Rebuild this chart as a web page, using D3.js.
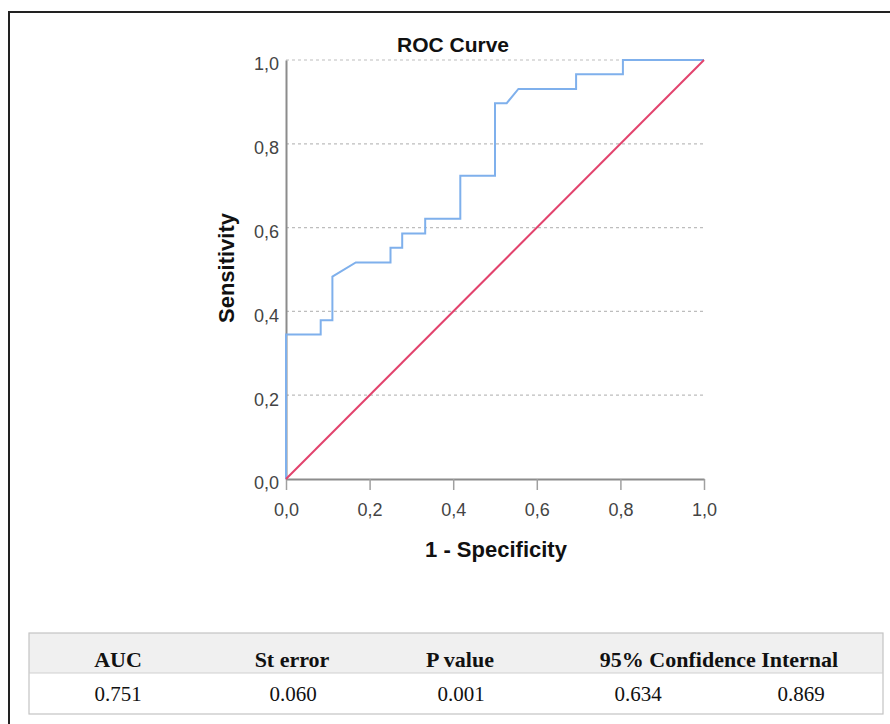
<!DOCTYPE html>
<html>
<head>
<meta charset="utf-8">
<script src="https://cdn.jsdelivr.net/npm/d3@7"></script>
<style>
html,body{margin:0;padding:0;background:#fff;}
svg{display:block;}
</style>
</head>
<body>
<svg id="chart" width="890" height="724"></svg>
<script>
// ---- data ----
const fpr = [0, 0, 0.083, 0.083, 0.111, 0.111, 0.167, 0.25, 0.25, 0.278, 0.278, 0.333, 0.333, 0.417, 0.417, 0.5, 0.5, 0.528, 0.556, 0.694, 0.694, 0.806, 0.806, 1];
const tpr = [0, 0.345, 0.345, 0.379, 0.379, 0.483, 0.517, 0.517, 0.552, 0.552, 0.586, 0.586, 0.621, 0.621, 0.724, 0.724, 0.897, 0.897, 0.931, 0.931, 0.966, 0.966, 1, 1];
const refX = [0, 1];
const refY = [0, 1];
const tickValues = [0, 0.2, 0.4, 0.6, 0.8, 1.0];
const tickLabels = ["0,0", "0,2", "0,4", "0,6", "0,8", "1,0"];
const tableHeaders = ["AUC", "St error", "P value", "95% Confidence Internal"];
const tableValues = ["0.751", "0.060", "0.001", "0.634", "0.869"];

// ---- layout ----
const svg = d3.select("#chart");
const x = d3.scaleLinear().domain([0, 1]).range([286, 704]);
const y = d3.scaleLinear().domain([0, 1]).range([479, 60]);

// outer frame
svg.append("rect").attr("x", 9).attr("y", 12).attr("width", 900).attr("height", 730)
  .attr("fill", "none").attr("stroke", "#222").attr("stroke-width", 2);

// gridlines
svg.append("g").selectAll("line").data(tickValues.filter(v => v > 0)).join("line")
  .attr("x1", x(0)).attr("x2", x(1))
  .attr("y1", d => y(d)).attr("y2", d => y(d))
  .attr("stroke", "#bdbdbd").attr("stroke-width", 1.2).attr("stroke-dasharray", "3,3");

// x axis
const xAxis = d3.axisBottom(x).tickValues(tickValues)
  .tickFormat((d, i) => tickLabels[i]).tickSize(11).tickSizeOuter(0).tickPadding(13);
const gx = svg.append("g").attr("transform", `translate(0,${y(0)})`).call(xAxis);
gx.select(".domain").attr("stroke", "#8c8c8c").attr("stroke-width", 2);
gx.selectAll(".tick line").attr("stroke", "#a0a0a0").attr("stroke-width", 1.5);
gx.selectAll(".tick text").attr("font-family", "Liberation Sans, Arial, sans-serif")
  .attr("font-size", 18).attr("fill", "#444");

// y axis
const yAxis = d3.axisLeft(y).tickValues(tickValues)
  .tickFormat((d, i) => tickLabels[i]).tickSize(0).tickSizeOuter(0).tickPadding(7);
const gy = svg.append("g").attr("transform", `translate(${x(0)},0)`).call(yAxis);
gy.select(".domain").attr("stroke", "#8c8c8c").attr("stroke-width", 2);
gy.selectAll(".tick text").attr("font-family", "Liberation Sans, Arial, sans-serif")
  .attr("font-size", 18).attr("fill", "#444").attr("dy", "0.55em");

// ROC curve
const pts = fpr.map((v, i) => [v, tpr[i]]);
const line = d3.line().x(d => x(d[0])).y(d => y(d[1]));
svg.append("path").datum(pts).attr("d", line)
  .attr("fill", "none").attr("stroke", "#7fb0ec").attr("stroke-width", 2);

// reference line
svg.append("path").datum(refX.map((v, i) => [v, refY[i]])).attr("d", line)
  .attr("fill", "none").attr("stroke", "#e2436d").attr("stroke-width", 2);

// titles
svg.append("text").attr("x", 453).attr("y", 52).attr("text-anchor", "middle")
  .attr("font-family", "Liberation Sans, Arial, sans-serif").attr("font-weight", "bold")
  .attr("font-size", 21).attr("fill", "#111").text("ROC Curve");
svg.append("text").attr("x", 496).attr("y", 557).attr("text-anchor", "middle")
  .attr("font-family", "Liberation Sans, Arial, sans-serif").attr("font-weight", "bold")
  .attr("font-size", 22).attr("fill", "#111").text("1 - Specificity");
svg.append("text").attr("transform", "translate(234,268) rotate(-90)").attr("text-anchor", "middle")
  .attr("font-family", "Liberation Sans, Arial, sans-serif").attr("font-weight", "bold")
  .attr("font-size", 22).attr("fill", "#111").text("Sensitivity");

// table
const tX0 = 29, tX1 = 883, tY0 = 633, tY1 = 673, tY2 = 714;
const tg = svg.append("g");
tg.append("rect").attr("x", tX0).attr("y", tY0).attr("width", tX1 - tX0).attr("height", tY1 - tY0)
  .attr("fill", "#f0f0f0");
tg.append("rect").attr("x", tX0).attr("y", tY0).attr("width", tX1 - tX0).attr("height", tY2 - tY0)
  .attr("fill", "none").attr("stroke", "#c4c4c4").attr("stroke-width", 1.2);
tg.append("line").attr("x1", tX0).attr("x2", tX1).attr("y1", tY1).attr("y2", tY1)
  .attr("stroke", "#d0d0d0").attr("stroke-width", 1.2);
const headerX = [118, 292, 460, 719];
tg.selectAll("text.h").data(tableHeaders).join("text").attr("class", "h")
  .attr("x", (d, i) => headerX[i]).attr("y", 667).attr("text-anchor", "middle")
  .attr("font-family", "Liberation Serif, Times New Roman, serif").attr("font-weight", "bold")
  .attr("font-size", 22).attr("fill", "#111").text(d => d);
const valueX = [118, 293, 461, 638, 801];
tg.selectAll("text.v").data(tableValues).join("text").attr("class", "v")
  .attr("x", (d, i) => valueX[i]).attr("y", 701).attr("text-anchor", "middle")
  .attr("font-family", "Liberation Serif, Times New Roman, serif")
  .attr("font-size", 21).attr("fill", "#111").text(d => d);
</script>
</body>
</html>
